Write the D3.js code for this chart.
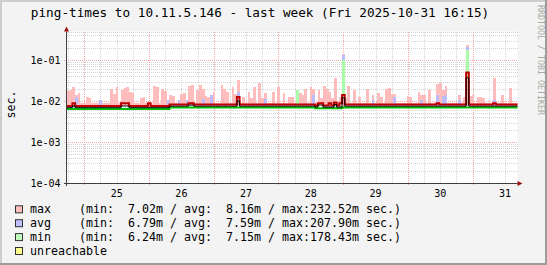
<!DOCTYPE html>
<html>
<head>
<meta charset="utf-8">
<script src="https://cdn.jsdelivr.net/npm/d3@7"></script>
<style>
  html, body { margin: 0; padding: 0; background: #f3f3f3; }
  svg { display: block; }
  text { font-family: "DejaVu Sans Mono", monospace; white-space: pre; }
</style>
</head>
<body>
<svg id="chart" width="547" height="265"></svg>
<script>
// ---- data (values in ms, one sample per hour from startTime) ----
const title = 'ping-times to 10.11.5.146 - last week (Fri 2025-10-31 16:15)';
const startTime = new Date(2025, 9, 24, 17, 35);
const endTime = new Date(2025, 9, 31, 16, 38);
const yTicks = [1e-4, 1e-3, 1e-2, 1e-1];
const yTickLabels = ['1e-04', '1e-03', '1e-02', '1e-01'];
const dayLabels = ['25', '26', '27', '28', '29', '30', '31'];

const maxBars = [
  18, 19, 22, 14, 16, 8.8, 8.8, 12.5, 12, 8.8, 8.8, 8.8,
  8.8, 8.8, 8.8, 8.8, 20, 15, 22, 8.8, 19, 21, 22, 17,
  16, 8.8, 8.8, 12, 12.5, 8.8, 8.8, 8.8, 24, 22, 8.8, 20,
  18, 8.8, 14, 13, 8.8, 8.8, 15, 16, 8.8, 24, 25, 8.8,
  19, 25, 20, 13, 12.5, 8.8, 16.6, 8.8, 8.8, 25, 20, 16.6,
  8.8, 22, 15, 33, 8.8, 12.5, 8.8, 16.6, 12, 22, 8.8, 27,
  12, 15.7, 8.8, 8.8, 16.6, 8.8, 22, 8.8, 15.7, 8.8, 12.5, 12.5,
  8.8, 8.8, 15.7, 14, 20, 8.8, 22, 20, 8.8, 18.6, 12, 24,
  20, 16.6, 12, 36, 8.8, 12.5, 140, 12, 24, 8.8, 18.6, 8.8,
  12.5, 8.8, 8.8, 19.6, 8.8, 14, 8.8, 15.7, 12.5, 8.8, 20, 21,
  14.8, 15, 8.8, 8.8, 8.8, 8.8, 13, 12.5, 8.8, 8.8, 16.6, 14,
  14, 8.8, 18.6, 8.8, 8.8, 26, 27, 18.6, 24, 8.8, 8.8, 8.8,
  8.8, 14, 8.8, 12.5, 232.5, 13, 14, 8.8, 12.5, 12.5, 12, 8.8,
  8.8, 8.8, 36, 8.8, 8.8, 14, 8.8, 8.8, 21, 8.8, 8.8, 8.8
];
const avgBars = [
  7.6, 7.6, 7.6, 12.5, 7.6, 7.6, 7.6, 7.6, 7.6, 7.6, 7.6, 7.6,
  10.6, 7.6, 7.6, 7.6, 7.6, 7.6, 7.6, 7.6, 7.6, 7.6, 7.6, 7.6,
  7.6, 7.6, 7.6, 7.6, 7.6, 7.6, 7.6, 7.6, 7.6, 7.6, 7.6, 7.6,
  7.6, 10.6, 7.6, 7.6, 7.6, 10.6, 7.6, 7.6, 10.6, 7.6, 7.6, 7.6,
  7.6, 7.6, 11, 7.6, 7.6, 14, 7.6, 7.6, 7.6, 7.6, 7.6, 7.6,
  7.6, 7.6, 7.6, 16.6, 7.6, 7.6, 7.6, 7.6, 7.6, 7.6, 7.6, 7.6,
  7.6, 11, 7.6, 7.6, 7.6, 7.6, 7.6, 7.6, 7.6, 7.6, 7.6, 7.6,
  7.6, 7.6, 7.6, 7.6, 7.6, 7.6, 7.6, 14, 7.6, 7.6, 7.6, 7.6,
  7.6, 7.6, 7.6, 7.6, 7.6, 7.6, 135, 7.6, 7.6, 7.6, 7.6, 7.6,
  7.6, 7.6, 7.6, 7.6, 7.6, 10.5, 7.6, 7.6, 7.6, 7.6, 7.6, 7.6,
  7.6, 12.5, 7.6, 7.6, 7.6, 7.6, 7.6, 7.6, 7.6, 7.6, 7.6, 10.5,
  7.6, 7.6, 7.6, 7.6, 7.6, 14, 7.6, 13, 14, 7.6, 7.6, 7.6,
  7.6, 10.5, 7.6, 7.6, 207.9, 7.6, 7.6, 7.6, 7.6, 7.6, 7.6, 7.6,
  7.6, 7.6, 10.5, 7.6, 7.6, 7.6, 7.6, 7.6, 7.6, 7.6, 7.6, 7.6
];
const minBars = [
  6.4, 6.4, 6.4, 6.4, 6.4, 6.4, 6.4, 6.4, 6.4, 6.4, 6.4, 6.4,
  6.4, 6.4, 6.4, 6.4, 6.4, 6.4, 6.4, 6.4, 6.4, 6.4, 6.4, 6.4,
  6.4, 6.4, 6.4, 6.4, 6.4, 6.4, 6.4, 6.4, 6.4, 6.4, 6.4, 6.4,
  6.4, 6.4, 7, 7, 7, 7, 7, 7, 7, 7, 7, 7,
  7, 7, 7, 7, 7, 7, 7, 7, 7, 7, 7, 7,
  7, 7, 7, 7, 7, 7, 7, 7, 7, 7, 7, 7,
  7, 7, 7, 7, 7, 7, 7, 7, 7, 7, 7, 7,
  7, 18.6, 7, 7, 7, 7, 7, 7, 6.7, 6.7, 6.7, 6.7,
  6.7, 6.7, 6.7, 6.7, 6.7, 6.7, 100, 7, 7, 7, 7, 7,
  7, 7, 7, 7, 7, 7, 7, 7, 7, 7, 7, 7,
  7, 7, 7, 7, 7, 7, 7, 7, 7, 7, 7, 7,
  7, 7, 7, 7, 7, 7, 7, 7, 7, 7, 7, 7,
  7, 7, 7, 7, 178.4, 7, 7, 7, 7, 7, 7, 7,
  7, 7, 7, 7, 7, 7, 7, 7, 7, 7, 7, 7
];
const maxLine = [
  7.6, 7.6, 8.9, 7.6, 7.6, 7.6, 7.6, 7.6, 7.6, 7.6, 7.6, 7.6,
  7.6, 7.6, 7.6, 7.6, 7.6, 7.6, 7.6, 7.6, 8.9, 8.9, 8.9, 7.6,
  7.6, 7.6, 7.6, 7.6, 7.6, 7.6, 8.8, 7.6, 7.6, 7.6, 7.6, 7.6,
  7.6, 7.6, 8.2, 8.2, 8.2, 8.2, 8.2, 8.2, 8.2, 8.9, 8.9, 8.2,
  8.2, 8.2, 8.2, 8.2, 8.2, 8.2, 8.2, 8.2, 8.2, 8.2, 8.2, 8.2,
  8.2, 8.2, 8.2, 12.5, 8.2, 8.2, 8.2, 8.2, 8.2, 8.2, 8.2, 8.2,
  8.2, 8.2, 8.2, 8.2, 8.2, 8.2, 8.2, 8.2, 8.2, 8.2, 8.2, 8.2,
  8.2, 8.2, 8.2, 8.2, 8.2, 8.2, 8.2, 8.2, 7.8, 8.9, 8.9, 7.8,
  7.8, 8.8, 7.8, 9.2, 7.8, 8.8, 14, 8.2, 8.2, 8.2, 8.2, 8.2,
  8.2, 8.2, 8.2, 8.2, 8.2, 8.2, 8.2, 8.2, 8.2, 8.2, 8.2, 8.2,
  8.2, 8.2, 8.2, 8.2, 8.2, 8.2, 8.2, 8.2, 8.2, 8.2, 8.2, 8.2,
  8.2, 8.2, 8.2, 8.2, 8.2, 8.8, 8.2, 8.2, 8.2, 8.2, 8.2, 8.2,
  8.2, 8.2, 8.2, 8.2, 50, 8.2, 8.2, 8.2, 8.2, 8.2, 8.2, 8.2,
  8.2, 8.2, 8.8, 8.2, 8.2, 8.2, 8.2, 8.2, 8.2, 8.2, 8.2, 8.2
];
const avgLine = [
  6.9, 6.9, 7.6, 6.9, 6.9, 6.9, 6.9, 6.9, 6.9, 6.9, 6.9, 6.9,
  6.9, 6.9, 6.9, 6.9, 6.9, 6.9, 6.9, 6.9, 7.6, 7.6, 7.6, 6.9,
  6.9, 6.9, 6.9, 6.9, 6.9, 6.9, 6.9, 6.9, 6.9, 6.9, 6.9, 6.9,
  6.9, 6.9, 7.5, 7.5, 7.5, 7.5, 7.5, 7.5, 7.5, 8, 8, 7.5,
  7.5, 7.5, 7.5, 7.5, 7.5, 7.5, 7.5, 7.5, 7.5, 7.5, 7.5, 7.5,
  7.5, 7.5, 7.5, 10, 7.5, 7.5, 7.5, 7.5, 7.5, 7.5, 7.5, 7.5,
  7.5, 7.5, 7.5, 7.5, 7.5, 7.5, 7.5, 7.5, 7.5, 7.5, 7.5, 7.5,
  7.5, 7.5, 7.5, 7.5, 7.5, 7.5, 7.5, 7.5, 7.1, 8, 8, 7.1,
  7.1, 7.1, 7.1, 8.3, 7.1, 7.1, 12, 7.5, 7.5, 7.5, 7.5, 7.5,
  7.5, 7.5, 7.5, 7.5, 7.5, 7.5, 7.5, 7.5, 7.5, 7.5, 7.5, 7.5,
  7.5, 7.5, 7.5, 7.5, 7.5, 7.5, 7.5, 7.5, 7.5, 7.5, 7.5, 7.5,
  7.5, 7.5, 7.5, 7.5, 7.5, 7.5, 7.5, 7.5, 7.5, 7.5, 7.5, 7.5,
  7.5, 7.5, 7.5, 7.5, 37, 7.5, 7.5, 7.5, 7.5, 7.5, 7.5, 7.5,
  7.5, 7.5, 7.5, 7.5, 7.5, 7.5, 7.5, 7.5, 7.5, 7.5, 7.5, 7.5
];
const minLine = [
  6.4, 6.4, 6.4, 6.4, 6.4, 6.4, 6.4, 6.4, 6.4, 6.4, 6.4, 6.4,
  6.4, 6.4, 6.4, 6.4, 6.4, 6.4, 6.4, 6.4, 6.4, 6.4, 6.4, 6.4,
  6.4, 6.4, 6.4, 6.4, 6.4, 6.4, 6.4, 6.4, 6.4, 6.4, 6.4, 6.4,
  6.4, 6.4, 7, 7, 7, 7, 7, 7, 7, 7, 7, 7,
  7, 7, 7, 7, 7, 7, 7, 7, 7, 7, 7, 7,
  7, 7, 7, 7, 7, 7, 7, 7, 7, 7, 7, 7,
  7, 7, 7, 7, 7, 7, 7, 7, 7, 7, 7, 7,
  7, 7, 7, 7, 7, 7, 7, 7, 6.7, 6.7, 6.7, 6.7,
  6.7, 6.7, 6.7, 6.7, 6.7, 6.7, 7, 7, 7, 7, 7, 7,
  7, 7, 7, 7, 7, 7, 7, 7, 7, 7, 7, 7,
  7, 7, 7, 7, 7, 7, 7, 7, 7, 7, 7, 7,
  7, 7, 7, 7, 7, 7, 7, 7, 7, 7, 7, 7,
  7, 7, 7, 7, 7, 7, 7, 7, 7, 7, 7, 7,
  7, 7, 7, 7, 7, 7, 7, 7, 7, 7, 7, 7
];

const legendNames = ['max', 'avg', 'min', 'unreachable'];
const legendColors = ['#ffc0c0', '#c0c0ff', '#c0ffc0', '#ffff90'];
const legendStats = [
  '(min:  7.02m / avg:  8.16m / max:232.52m sec.)',
  '(min:  6.79m / avg:  7.59m / max:207.90m sec.)',
  '(min:  6.24m / avg:  7.15m / max:178.43m sec.)',
  ''
];

// ---- layout ----
const W = 547, H = 265;
const plot = { left: 67, right: 517.5, top: 31.5, bottom: 183 };

const svg = d3.select('#chart');
const x = d3.scaleTime().domain([startTime, endTime]).range([plot.left, plot.right]);
const y = d3.scaleLog().domain([1e-4, 0.5]).range([plot.bottom, plot.top]);
const binTime = i => d3.timeHour.offset(startTime, i);
const ms = v => v / 1000;

// frame
svg.append('rect').attr('width', W).attr('height', H).attr('fill', '#f3f3f3');
svg.append('rect').attr('x', 0).attr('y', 0).attr('width', W).attr('height', 2).attr('fill', '#cdcdcd');
svg.append('rect').attr('x', 0).attr('y', 0).attr('width', 2).attr('height', H).attr('fill', '#cdcdcd');
svg.append('rect').attr('x', 0).attr('y', H - 2).attr('width', W).attr('height', 2).attr('fill', '#9c9c9c');
svg.append('rect').attr('x', W - 2).attr('y', 0).attr('width', 2).attr('height', H).attr('fill', '#9c9c9c');

svg.append('rect')
  .attr('x', plot.left).attr('y', plot.top)
  .attr('width', plot.right - plot.left).attr('height', plot.bottom - plot.top)
  .attr('fill', '#ffffff');

svg.append('defs').append('clipPath').attr('id', 'plotclip')
  .append('rect')
  .attr('x', plot.left).attr('y', plot.top)
  .attr('width', plot.right - plot.left).attr('height', plot.bottom - plot.top);

// grid
const grid = svg.append('g').attr('shape-rendering', 'crispEdges');
const minorY = [];
yTicks.forEach(d => { for (let k = 2; k <= 9; k++) if (d * k <= 0.5) minorY.push(d * k); });
grid.selectAll('line.minor-h').data(minorY).enter().append('line')
  .attr('x1', plot.left).attr('x2', plot.right)
  .attr('y1', d => Math.round(y(d)) + 0.5).attr('y2', d => Math.round(y(d)) + 0.5)
  .attr('stroke', '#d4d4d4').attr('stroke-dasharray', '1,1');
const minorX = d3.timeHour.every(6).range(startTime, endTime)
  .filter(t => t.getHours() !== 0);
grid.selectAll('line.minor-v').data(minorX).enter().append('line')
  .attr('x1', d => Math.round(x(d)) + 0.5).attr('x2', d => Math.round(x(d)) + 0.5)
  .attr('y1', plot.top).attr('y2', plot.bottom)
  .attr('stroke', '#d4d4d4').attr('stroke-dasharray', '1,1');
grid.selectAll('line.major-h').data(yTicks).enter().append('line')
  .attr('x1', plot.left - 3).attr('x2', plot.right)
  .attr('y1', d => Math.round(y(d)) + 0.5).attr('y2', d => Math.round(y(d)) + 0.5)
  .attr('stroke', '#f4a4a4').attr('stroke-dasharray', '1,1');
const days = d3.timeDay.range(startTime, endTime);
grid.selectAll('line.major-v').data(days).enter().append('line')
  .attr('x1', d => Math.round(x(d)) + 0.5).attr('x2', d => Math.round(x(d)) + 0.5)
  .attr('y1', plot.top).attr('y2', plot.bottom + 3)
  .attr('stroke', '#f4a4a4').attr('stroke-dasharray', '1,1');

// bars (from the avg line up to each value)
const marks = svg.append('g').attr('clip-path', 'url(#plotclip)');
function drawBars(values, color) {
  const data = values.map((v, i) => ({ i, v, base: avgLine[i] })).filter(d => d.v > d.base);
  marks.append('g').attr('shape-rendering', 'crispEdges')
    .selectAll('rect').data(data).enter().append('rect')
    .attr('x', d => Math.round(x(binTime(d.i))))
    .attr('width', d => Math.max(2, Math.round(x(binTime(d.i + 1))) - Math.round(x(binTime(d.i)))))
    .attr('y', d => y(ms(d.v)))
    .attr('height', d => y(ms(d.base)) - y(ms(d.v)))
    .attr('fill', color);
}
drawBars(maxBars, '#ffbcbc');
drawBars(avgBars, '#bcbcff');
drawBars(minBars, '#a8ffa8');

// lines
function drawLine(values, color, width) {
  const pts = values.map((v, i) => [binTime(i), v]);
  pts.push([binTime(values.length), values[values.length - 1]]);
  const line = d3.line()
    .x(d => x(d[0]))
    .y(d => y(ms(d[1])))
    .curve(d3.curveStepAfter);
  marks.append('path').datum(pts)
    .attr('d', line)
    .attr('fill', 'none')
    .attr('stroke', color)
    .attr('stroke-width', width);
}
drawLine(minLine, '#00c000', 2);
drawLine(maxLine, '#c00000', 2);
drawLine(avgLine, '#000000', 1);

// axes
const axis = svg.append('g');
axis.append('line')
  .attr('x1', plot.left - 3).attr('x2', plot.right)
  .attr('y1', plot.bottom + 0.5).attr('y2', plot.bottom + 0.5)
  .attr('stroke', '#404040');
axis.append('line')
  .attr('x1', plot.left - 0.5).attr('x2', plot.left - 0.5)
  .attr('y1', plot.bottom + 3).attr('y2', plot.top)
  .attr('stroke', '#404040');
axis.append('path')
  .attr('d', `M${plot.left - 3},${plot.top} L${plot.left + 2},${plot.top} L${plot.left - 0.5},${plot.top - 5} Z`)
  .attr('fill', '#9a1010');
axis.append('path')
  .attr('d', `M${plot.right},${plot.bottom - 2} L${plot.right},${plot.bottom + 3} L${plot.right + 5},${plot.bottom + 0.5} Z`)
  .attr('fill', '#9a1010');

// y tick labels
svg.append('g').selectAll('text').data(yTicks).enter().append('text')
  .attr('x', 60.5)
  .attr('y', d => y(d) + 3.6)
  .attr('text-anchor', 'end')
  .attr('font-size', '10px')
  .attr('fill', '#000')
  .text((d, i) => yTickLabels[i]);

// x tick labels (centred on noon)
svg.append('g').selectAll('text').data(days).enter().append('text')
  .attr('x', d => x(d3.timeHour.offset(d, 12)))
  .attr('y', 196.5)
  .attr('text-anchor', 'middle')
  .attr('font-size', '10px')
  .attr('fill', '#000')
  .text((d, i) => dayLabels[i]);

// title
svg.append('text')
  .attr('x', 260).attr('y', 16.5)
  .attr('text-anchor', 'middle')
  .attr('font-size', '12.7px')
  .attr('fill', '#000')
  .text(title);

// vertical label
svg.append('text')
  .attr('transform', 'translate(15,104.5) rotate(-90)')
  .attr('text-anchor', 'middle')
  .attr('font-size', '11.6px')
  .attr('fill', '#000')
  .text('sec.');

// watermark
svg.append('text')
  .attr('transform', 'translate(537.5,5) rotate(90)')
  .attr('font-size', '8.3px')
  .attr('fill', '#a8a8a8')
  .text('RRDTOOL / TOBI OETIKER');

// legend
const legend = svg.append('g');
const rows = legend.selectAll('g').data(legendNames).enter().append('g')
  .attr('transform', (d, i) => `translate(0,${213.3 + i * 13.9})`);
rows.append('rect')
  .attr('x', 15.5).attr('y', -7.5)
  .attr('width', 7).attr('height', 7)
  .attr('fill', (d, i) => legendColors[i])
  .attr('stroke', '#303030').attr('stroke-width', 1);
rows.append('text')
  .attr('x', 30).attr('y', 0)
  .attr('font-size', '11.63px')
  .attr('fill', '#000')
  .text((d, i) => legendStats[i] ? d.padEnd(7, ' ') + legendStats[i] : d);
</script>
</body>
</html>
